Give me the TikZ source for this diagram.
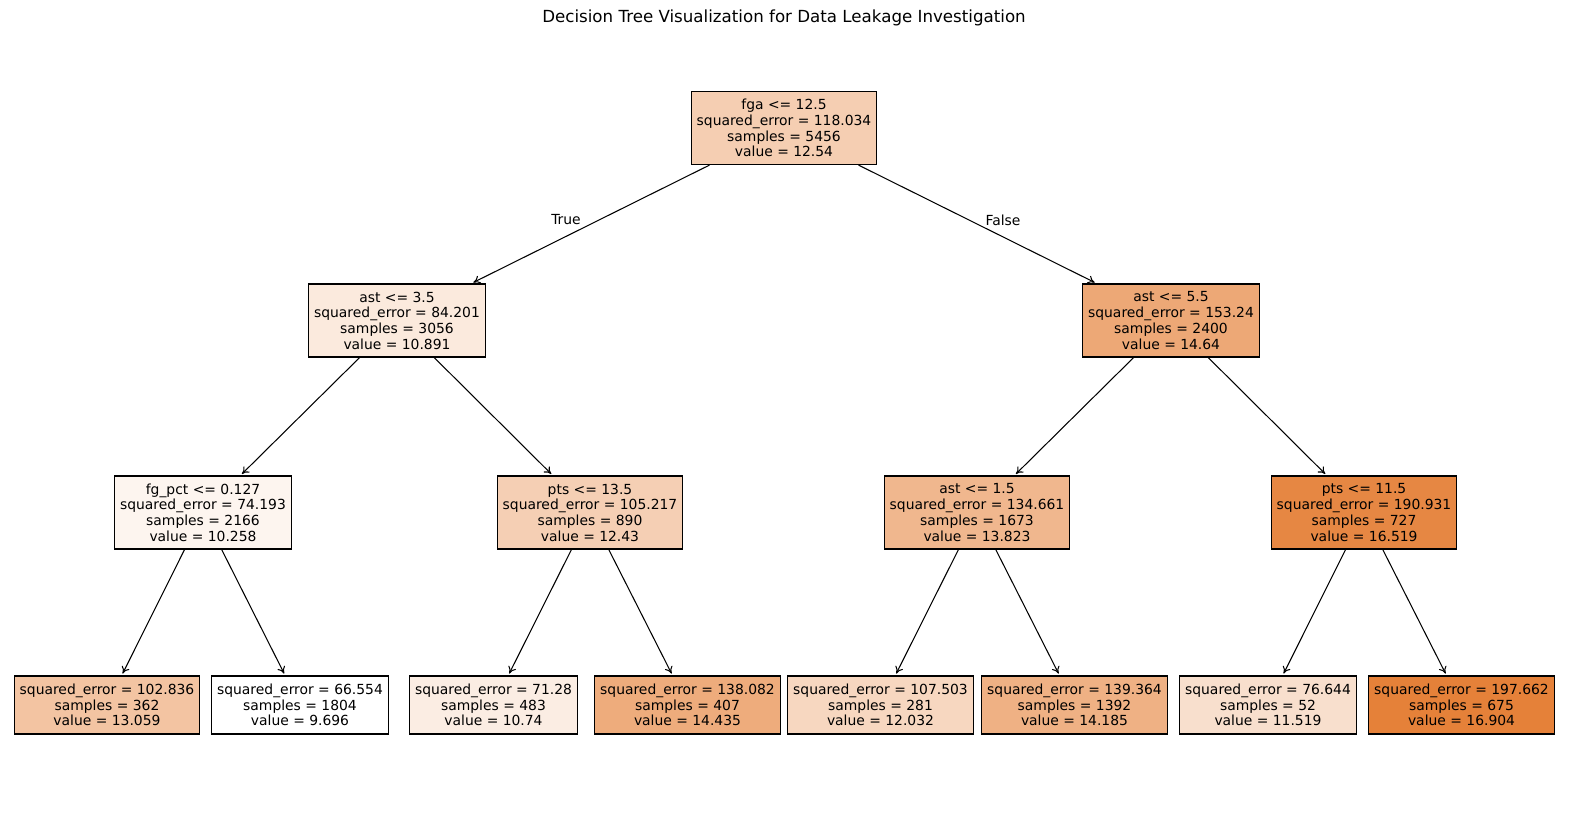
\documentclass[tikz,border=0pt]{standalone}
\usepackage{fontspec}
\setmainfont{DejaVu Sans}
\usetikzlibrary{arrows.meta}
\definecolor{orng}{RGB}{229,129,57}
\begin{document}
\begin{tikzpicture}[x=0.72pt,y=-0.72pt,
  tnode/.style={draw=black, line width=0.8pt, align=center, font=\fontsize{10}{11.3}\selectfont,
    inner xsep=4pt, inner ysep=0pt, minimum height=52.6pt},
  leaf/.style={tnode, minimum height=41.8pt},
  edge/.style={-{To[length=5pt,width=6pt]}, line width=0.75pt, shorten >=1.5pt},
  lbl/.style={font=\fontsize{10}{12}\selectfont}]
\useasboundingbox (0,0) rectangle (1570,812);
\node[font=\fontsize{12}{14}\selectfont] (title) at (784,18) {Decision Tree Visualization for Data Leakage Investigation};

\node[tnode, fill=orng!39!white] (n0) at (784,128) {fga <= 12.5\\squared\_error = 118.034\\samples = 5456\\value = 12.54};
\node[tnode, fill=orng!17!white] (n1) at (397,320.5) {ast <= 3.5\\squared\_error = 84.201\\samples = 3056\\value = 10.891};
\node[tnode, fill=orng!69!white] (n2) at (1171,320.5) {ast <= 5.5\\squared\_error = 153.24\\samples = 2400\\value = 14.64};
\node[tnode, fill=orng!8!white] (n3) at (203,512.5) {fg\_pct <= 0.127\\squared\_error = 74.193\\samples = 2166\\value = 10.258};
\node[tnode, fill=orng!38!white] (n4) at (590,512.5) {pts <= 13.5\\squared\_error = 105.217\\samples = 890\\value = 12.43};
\node[tnode, fill=orng!57!white] (n5) at (977,512.5) {ast <= 1.5\\squared\_error = 134.661\\samples = 1673\\value = 13.823};
\node[tnode, fill=orng!95!white] (n6) at (1364,512.5) {pts <= 11.5\\squared\_error = 190.931\\samples = 727\\value = 16.519};

\node[leaf, fill=orng!47!white] (l1) at (107,705) {squared\_error = 102.836\\samples = 362\\value = 13.059};
\node[leaf, fill=white] (l2) at (300,705) {squared\_error = 66.554\\samples = 1804\\value = 9.696};
\node[leaf, fill=orng!14!white] (l3) at (493.5,705) {squared\_error = 71.28\\samples = 483\\value = 10.74};
\node[leaf, fill=orng!66!white] (l4) at (687.5,705) {squared\_error = 138.082\\samples = 407\\value = 14.435};
\node[leaf, fill=orng!32!white] (l5) at (880.5,705) {squared\_error = 107.503\\samples = 281\\value = 12.032};
\node[leaf, fill=orng!62!white] (l6) at (1074.5,705) {squared\_error = 139.364\\samples = 1392\\value = 14.185};
\node[leaf, fill=orng!25!white] (l7) at (1268,705) {squared\_error = 76.644\\samples = 52\\value = 11.519};
\node[leaf, fill=orng] (l8) at (1461.5,705) {squared\_error = 197.662\\samples = 675\\value = 16.904};

\draw[edge] (n0) -- (n1);
\draw[edge] (n0) -- (n2);
\draw[edge] (n1) -- (n3);
\draw[edge] (n1) -- (n4);
\draw[edge] (n2) -- (n5);
\draw[edge] (n2) -- (n6);
\draw[edge] (n3) -- (l1);
\draw[edge] (n3) -- (l2);
\draw[edge] (n4) -- (l3);
\draw[edge] (n4) -- (l4);
\draw[edge] (n5) -- (l5);
\draw[edge] (n5) -- (l6);
\draw[edge] (n6) -- (l7);
\draw[edge] (n6) -- (l8);

\node[lbl] (ltrue) at (566,220) {True};
\node[lbl] (lfalse) at (1003,220) {False};
\end{tikzpicture}
\end{document}
